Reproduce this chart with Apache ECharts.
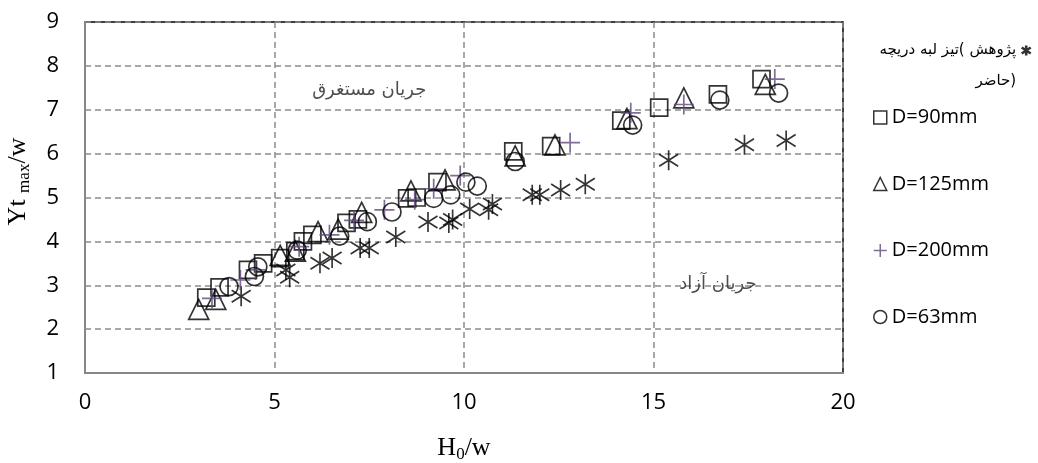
<!DOCTYPE html>
<html>
<head>
<meta charset="utf-8">
<script src="https://cdn.jsdelivr.net/npm/echarts@6/dist/echarts.min.js"></script>
<style>
  html, body { margin: 0; padding: 0; background: #fff; }
  #chart { width: 1038px; height: 463px; }
</style>
</head>
<body>
<div id="chart"></div>
<script>
// Axis ranges: [min, max, interval]
const xRange = [0, 20, 5];
const yRange = [1, 9, 1];

// Series names
const gateWords = ['دریچه', 'لبه', 'تیز(', 'پژوهش'];
const gateLine2 = 'حاضر)';
const gateName = 'دریچه لبه تیز (پژوهش حاضر)';
const nameD90 = 'D=90mm';
const nameD125 = 'D=125mm';
const nameD200 = 'D=200mm';
const nameD63 = 'D=63mm';

// [H0/w, Ytmax/w]
const sharpGate = [
  [4.12, 2.75], [5.3, 3.35], [5.4, 3.18], [6.2, 3.5], [6.52, 3.62],
  [7.26, 3.85], [7.5, 3.85], [8.2, 4.1], [9.05, 4.44], [9.6, 4.42],
  [9.7, 4.5], [10.15, 4.74], [10.65, 4.72], [10.75, 4.85], [11.8, 5.06],
  [12.0, 5.06], [12.55, 5.17], [13.2, 5.3], [15.4, 5.85], [17.4, 6.2],
  [18.5, 6.3]
];
const d90 = [
  [3.2, 2.72], [3.55, 2.95], [4.3, 3.35], [4.7, 3.5], [5.15, 3.62],
  [5.55, 3.78], [5.75, 4.0], [6.0, 4.15], [6.9, 4.42], [7.2, 4.5],
  [8.5, 4.98], [8.75, 5.0], [9.3, 5.35], [11.3, 6.05], [12.3, 6.17],
  [14.15, 6.75], [15.15, 7.05], [16.7, 7.35], [17.85, 7.7]
];
const d125 = [
  [3.0, 2.45], [3.45, 2.68], [5.15, 3.68], [5.55, 3.78], [6.15, 4.22],
  [6.68, 4.28], [7.3, 4.66], [8.6, 5.15], [9.5, 5.4], [11.35, 5.95],
  [12.4, 6.2], [14.3, 6.8], [15.8, 7.27], [17.95, 7.58]
];
const d200 = [
  [3.35, 2.7], [4.1, 3.12], [4.5, 3.35], [5.65, 3.88], [6.45, 4.15],
  [7.1, 4.48], [7.9, 4.72], [8.7, 4.95], [9.2, 5.2], [9.9, 5.5],
  [12.8, 6.25], [14.4, 6.93], [15.8, 7.12], [18.2, 7.7]
];
const d63 = [
  [3.8, 2.97], [4.47, 3.2], [4.56, 3.42], [5.6, 3.8], [6.72, 4.12],
  [7.45, 4.45], [8.1, 4.67], [9.2, 4.98], [9.65, 5.06], [10.05, 5.35],
  [10.35, 5.26], [11.35, 5.82], [14.45, 6.65], [16.75, 7.22], [18.3, 7.38]
];

// Region captions placed in data coordinates
const regionNotes = [
  { name: 'جریان مستغرق', value: [7.5, 7.45] },
  { name: 'جریان آزاد', value: [16.7, 3.03] }
];

const starPath = 'path://M9,0L9,20M0,4L18,16M0,16L18,4';
const plusPath = 'path://M0,10L20,10M10,0L10,20';
const purple = '#5f497a';

const hollow = (stroke, w) => ({ color: 'rgba(0,0,0,0)', borderColor: stroke, borderWidth: w });

// Each word is its own token so the words sit left to right
const gateLabel = '{w| }\n' + gateWords.map((w, i) => '{w|' + w + (i < gateWords.length - 1 ? ' ' : '') + '}').join('')
  + '\n{w|' + gateLine2 + '}';

const chart = echarts.init(document.getElementById('chart'), null, { renderer: 'canvas' });

const serifRich = {
  m: { fontFamily: 'Liberation Serif', fontSize: 26, lineHeight: 29, color: '#000' },
  s: { fontFamily: 'Liberation Serif', fontSize: 17, lineHeight: 12, verticalAlign: 'bottom', color: '#000' }
};

chart.setOption({
  animation: false,
  backgroundColor: '#fff',
  grid: {
    left: 85, right: 195, top: 22, bottom: 90,
    show: true, borderColor: '#000', borderWidth: 1.5,
    outerBoundsMode: 'none'
  },
  xAxis: {
    type: 'value',
    min: xRange[0], max: xRange[1], interval: xRange[2],
    name: '{m|H}{s|0}{m|/w}',
    nameLocation: 'middle',
    nameGap: 61,
    nameTextStyle: { rich: serifRich },
    axisLine: { show: true, lineStyle: { color: '#878787', width: 2 } },
    axisTick: { show: false },
    axisLabel: { margin: 19, fontFamily: 'Open Sans', fontSize: 22, color: '#000' },
    splitLine: { show: true, lineStyle: { color: '#8c8c8c', width: 1.5, type: [6, 4] } }
  },
  yAxis: {
    type: 'value',
    min: yRange[0], max: yRange[1], interval: yRange[2],
    name: '{m|Yt }{s|max}{m|/w}',
    nameLocation: 'middle',
    nameGap: 52,
    nameTextStyle: { rich: serifRich, padding: [0, 0, 0, 32] },
    axisLine: { show: true, lineStyle: { color: '#878787', width: 2 } },
    axisTick: { show: false },
    axisLabel: { margin: 26, fontFamily: 'Open Sans', fontSize: 22, color: '#000' },
    splitLine: { show: true, lineStyle: { color: '#8c8c8c', width: 1.5, type: [6, 4] } }
  },
  legend: [
    {
      data: [{ name: gateName, icon: starPath, itemStyle: hollow('#000', 2.6) }],
      orient: 'vertical',
      right: 1, top: 7,
      align: 'right',
      itemWidth: 10, itemHeight: 10,
      formatter: () => gateLabel,
      textStyle: {
        color: '#000',
        rich: { w: { fontFamily: 'DejaVu Sans', fontSize: 15, lineHeight: 31, color: '#000' } }
      },
      selectedMode: false
    },
    {
      data: [
        { name: nameD90, icon: 'rect', itemStyle: hollow('#000', 1.5) },
        { name: nameD125, icon: 'triangle', itemStyle: hollow('#000', 1.5) },
        { name: nameD200, icon: plusPath, itemStyle: hollow(purple, 1.5) },
        { name: nameD63, icon: 'circle', itemStyle: hollow('#000', 1.5) }
      ],
      orient: 'vertical',
      left: 868, top: 102,
      itemGap: 45.5,
      itemWidth: 13, itemHeight: 13,
      textStyle: { fontFamily: 'Open Sans', fontSize: 20, lineHeight: 21, color: '#000' },
      selectedMode: false
    }
  ],
  series: [
    {
      name: gateName, type: 'scatter', data: sharpGate,
      symbol: starPath, symbolSize: [19, 20],
      itemStyle: hollow('#000', 1.7), emphasis: { disabled: true }
    },
    {
      name: nameD90, type: 'scatter', data: d90,
      symbol: 'rect', symbolSize: 17,
      itemStyle: hollow('#000', 1.7), emphasis: { disabled: true }
    },
    {
      name: nameD125, type: 'scatter', data: d125,
      symbol: 'triangle', symbolSize: 20,
      itemStyle: hollow('#000', 1.7), emphasis: { disabled: true }
    },
    {
      name: nameD200, type: 'scatter', data: d200,
      symbol: plusPath, symbolSize: 20,
      itemStyle: hollow(purple, 1.7), emphasis: { disabled: true }
    },
    {
      name: nameD63, type: 'scatter', data: d63,
      symbol: 'circle', symbolSize: 18,
      itemStyle: hollow('#000', 1.7), emphasis: { disabled: true }
    },
    {
      name: 'regions', type: 'scatter', data: regionNotes,
      symbolSize: 0, silent: true,
      label: {
        show: true, position: 'inside', formatter: p => p.name,
        fontFamily: 'DejaVu Sans', fontSize: 18, color: '#222'
      }
    }
  ]
});
</script>
</body>
</html>
